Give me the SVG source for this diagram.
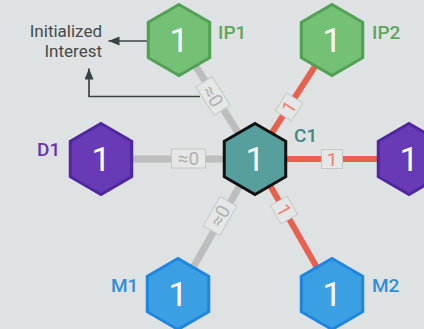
<svg xmlns="http://www.w3.org/2000/svg" width="424" height="329" viewBox="0 0 424 329">
  <defs>
    <path id="hex" d="M0,-35.5 L30.74,-17.75 L30.74,17.75 L0,35.5 L-30.74,17.75 L-30.74,-17.75 Z"/>
    <marker id="arrow" markerUnits="userSpaceOnUse" markerWidth="12" markerHeight="10" refX="11" refY="4.5" orient="auto">
      <path d="M0,0 L11,4.5 L0,9 Z" fill="#3a4345"/>
    </marker>
    <style>
      text { font-family: Roboto, "Liberation Sans", sans-serif; }
      .num { fill: #ffffff; font-size: 34px; text-anchor: middle; }
      .name { font-size: 19px; font-weight: 500; }
      .green { fill: #74c075; stroke: #52a153; stroke-width: 3; }
      .purple { fill: #683ab6; stroke: #4f279e; stroke-width: 3; }
      .teal { fill: #569f9d; stroke: #111111; stroke-width: 3; }
      .blue { fill: #3ba0e3; stroke: #1e86e0; stroke-width: 3; }
      .edge-zero { stroke: #bdbdbd; stroke-width: 7; fill: none; }
      .edge-one { stroke: #e8604f; stroke-width: 6; fill: none; }
      .tag { fill: #e5e7e7; stroke: #c6c8c8; stroke-width: 1; }
      .tag-zero { fill: #b0b0b0; font-size: 19px; text-anchor: middle; }
      .tag-one { fill: #f0806e; font-size: 19px; text-anchor: middle; }
      .note { fill: #454b4c; font-size: 17px; text-anchor: end; }
      .pointer { stroke: #3a4345; stroke-width: 1.7; fill: none; }
    </style>
  </defs>

  <rect width="424" height="329" fill="#dfe2e3"/>

  <!-- connectors -->
  <g id="connectors">
    <line class="edge-zero" x1="255" y1="159" x2="179" y2="40"/>
    <line class="edge-one" x1="255" y1="159" x2="332" y2="40"/>
    <line class="edge-zero" x1="255" y1="159" x2="101" y2="159"/>
    <line class="edge-one" x1="255" y1="159" x2="409" y2="159"/>
    <line class="edge-zero" x1="255" y1="159" x2="178" y2="294"/>
    <line class="edge-one" x1="255" y1="159" x2="332" y2="294"/>

    <g transform="translate(213,96) rotate(57.4)">
      <rect class="tag" x="-17" y="-9.5" width="34" height="19"/>
      <text class="tag-zero" y="6.7">≈0</text>
    </g>
    <g transform="translate(289,107) rotate(-57.1)">
      <rect class="tag" x="-10.5" y="-9.5" width="21" height="19"/>
      <text class="tag-one" y="6.7">1</text>
    </g>
    <g transform="translate(188.5,158.5)">
      <rect class="tag" x="-17" y="-9.5" width="34" height="19"/>
      <text class="tag-zero" y="6.7">≈0</text>
    </g>
    <g transform="translate(332,159)">
      <rect class="tag" x="-10.5" y="-9.5" width="21" height="19"/>
      <text class="tag-one" y="6.7">1</text>
    </g>
    <g transform="translate(220,216) rotate(-60.3)">
      <rect class="tag" x="-17" y="-9.5" width="34" height="19"/>
      <text class="tag-zero" y="6.7">≈0</text>
    </g>
    <g transform="translate(284,210) rotate(60.3)">
      <rect class="tag" x="-10.5" y="-9.5" width="21" height="19"/>
      <text class="tag-one" y="6.7">1</text>
    </g>

    <!-- annotation pointers -->
    <line class="pointer" x1="155" y1="41" x2="108.5" y2="41" marker-end="url(#arrow)"/>
    <path class="pointer" d="M200,96.5 H89 V68.5" marker-end="url(#arrow)"/>
  </g>

  <g id="annotation">
    <text class="note" x="102" y="37">Initialized</text>
    <text class="note" x="102" y="57">Interest</text>
  </g>

  <!-- nodes -->
  <g id="IP1">
    <use href="#hex" class="green" x="179" y="40"/>
    <text class="num" x="179" y="52">1</text>
    <text class="name" x="218" y="39" fill="#5ca65c">IP1</text>
  </g>
  <g id="IP2">
    <use href="#hex" class="green" x="332" y="40"/>
    <text class="num" x="332" y="52">1</text>
    <text class="name" x="372" y="39" fill="#5ca65c">IP2</text>
  </g>
  <g id="C1">
    <use href="#hex" class="teal" x="255" y="159"/>
    <text class="num" x="255" y="171">1</text>
    <text class="name" x="294" y="142" fill="#3f8685">C1</text>
  </g>
  <g id="D1">
    <use href="#hex" class="purple" x="101" y="159"/>
    <text class="num" x="101" y="171">1</text>
    <text class="name" x="37" y="156" fill="#6a30b0">D1</text>
  </g>
  <g id="D2">
    <use href="#hex" class="purple" x="409" y="159"/>
    <text class="num" x="409" y="171">1</text>
  </g>
  <g id="M1">
    <use href="#hex" class="blue" x="178" y="294"/>
    <text class="num" x="178" y="306">1</text>
    <text class="name" x="111" y="292" fill="#2f8edb">M1</text>
  </g>
  <g id="M2">
    <use href="#hex" class="blue" x="332" y="294"/>
    <text class="num" x="332" y="306">1</text>
    <text class="name" x="372" y="292" fill="#2f8edb">M2</text>
  </g>
</svg>
